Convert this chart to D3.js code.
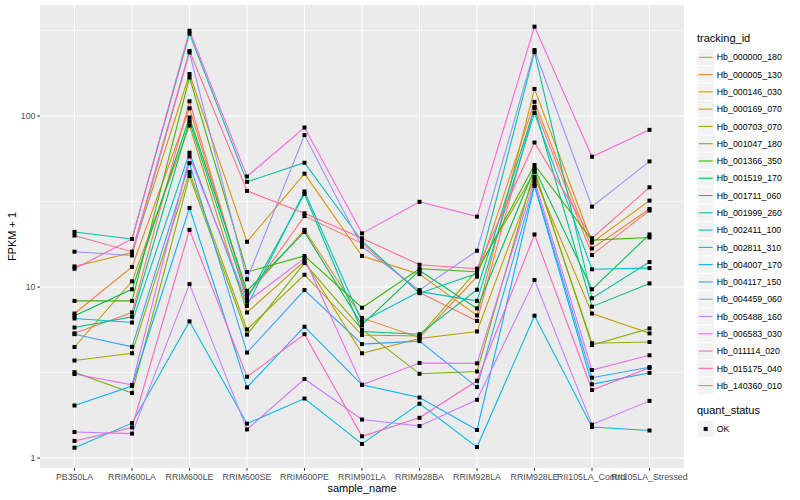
<!DOCTYPE html>
<html><head><meta charset="utf-8">
<script src="https://cdn.jsdelivr.net/npm/d3@7"></script>
<style>body{margin:0;background:#fff}svg{display:block}text{font-family:"Liberation Sans",Arial,Helvetica,sans-serif}</style>
</head><body><svg id="c" width="800" height="500"></svg>
<script>
const samples = ["PB350LA","RRIM600LA","RRIM600LE","RRIM600SE","RRIM600PE","RRIM901LA","RRIM928BA","RRIM928LA","RRIM928LE","RII105LA_Control","RII105LA_Stressed"];
const trackingIds = ["Hb_000000_180","Hb_000005_130","Hb_000146_030","Hb_000169_070","Hb_000703_070","Hb_001047_180","Hb_001366_350","Hb_001519_170","Hb_001711_060","Hb_001999_260","Hb_002411_100","Hb_002811_310","Hb_004007_170","Hb_004117_150","Hb_004459_060","Hb_005488_160","Hb_006583_030","Hb_011114_020","Hb_015175_040","Hb_140360_010"];
// FPKM + 1 per tracking id, in sample order
const fpkm = [
 [5.36, 7.1, 122, 8.75, 26, 18, 9.3, 6.33, 113, 15.4, 28.0],
 [7.0, 13.1, 111, 9.0, 21.6, 6.6, 5.06, 11.5, 121, 16.8, 28.6],
 [13.2, 15.9, 176, 18.4, 46, 15.2, 11.9, 6.83, 144, 18.2, 32],
 [4.46, 10.8, 88, 7.1, 14.2, 4.1, 5.0, 5.5, 44, 7.0, 5.36],
 [3.72, 4.1, 47, 5.65, 11.8, 5.24, 5.17, 12.5, 47, 4.69, 4.77],
 [3.18, 2.4, 44.6, 5.27, 13.8, 5.65, 3.11, 3.21, 48, 4.58, 5.73],
 [8.3, 8.3, 168, 12.25, 15.2, 7.57, 12.8, 12.3, 51.7, 18.8, 19.5],
 [6.8, 9.7, 98, 9.5, 21, 6.0, 12.5, 7.5, 49.3, 9.7, 20.3],
 [5.8, 6.7, 93, 8.5, 35, 5.5, 5.3, 9.65, 111, 7.68, 10.5],
 [21, 19.1, 303, 41.2, 53.3, 18.6, 9.2, 12.0, 236, 8.6, 14.0],
 [6.55, 6.2, 61, 7.75, 36.2, 6.27, 9.4, 8.3, 104, 12.7, 12.9],
 [1.15, 1.6, 6.3, 1.59, 2.23, 1.21, 2.08, 1.16, 6.8, 1.52, 1.45],
 [2.03, 2.64, 29, 2.59, 5.86, 2.68, 2.26, 1.46, 39, 2.70, 3.15],
 [5.3, 4.47, 53, 4.14, 9.6, 4.64, 4.83, 2.6, 40, 2.95, 3.4],
 [16.1, 15.3, 235, 11.1, 77.4, 17.2, 9.6, 16.3, 243, 29.5, 54.3],
 [1.42, 1.39, 10.4, 1.47, 2.9, 1.68, 1.54, 2.19, 11.0, 1.57, 2.16],
 [3.1, 2.68, 58, 8.2, 14.7, 2.68, 3.6, 3.58, 42.2, 3.27, 3.99],
 [12.8, 19.1, 315, 44.3, 85.6, 20.6, 31.5, 25.8, 333, 57.8, 83],
 [1.26, 1.51, 21.6, 2.99, 5.3, 1.34, 1.72, 2.83, 20.3, 2.5, 3.37],
 [20, 16.1, 240, 36.5, 27, 19.3, 13.5, 12.8, 70, 19.3, 38.3]
];
const yTicks = [1, 10, 100];
const yTickLabels = ["1", "10", "100"];
const yMinor = [Math.sqrt(10), Math.sqrt(1000), Math.sqrt(100000)];
const quantStatus = ["OK"];

const palette = ["#F8766D","#EA8331","#D89000","#C09B00","#A3A500","#7CAE00","#39B600","#00BB4E","#00BF7D","#00C1A3","#00BFC4","#00BAE0","#00B0F6","#35A2FF","#9590FF","#C77CFF","#E76BF3","#FA62DB","#FF62BC","#FF6C91"];

const svg = d3.select("#c");
const L = 40, R = 684, T = 5, B = 468;
const x = d3.scalePoint().domain(samples).range([L, R]).padding(0.6);
const y = d3.scaleLog().domain([Math.pow(10, -0.058), Math.pow(10, 2.649)]).range([B, T]);
const color = d3.scaleOrdinal().domain(trackingIds).range(palette);

svg.append("rect").attr("x", L).attr("y", T).attr("width", R - L).attr("height", B - T).attr("fill", "#EBEBEB");
const g = svg.append("g");
g.selectAll(".ymin").data(yMinor).join("line")
  .attr("x1", L).attr("x2", R).attr("y1", d => y(d)).attr("y2", d => y(d))
  .attr("stroke", "#fff").attr("stroke-width", 0.55);
g.selectAll(".ymaj").data(yTicks).join("line")
  .attr("x1", L).attr("x2", R).attr("y1", d => y(d)).attr("y2", d => y(d))
  .attr("stroke", "#fff").attr("stroke-width", 1.1);
g.selectAll(".xmaj").data(samples).join("line")
  .attr("x1", d => x(d)).attr("x2", d => x(d)).attr("y1", T).attr("y2", B)
  .attr("stroke", "#fff").attr("stroke-width", 1.1);

const series = trackingIds.map((id, i) => ({id, values: samples.map((s, j) => ({s, v: fpkm[i][j]}))}));
const line = d3.line().x(d => x(d.s)).y(d => y(d.v));
svg.append("g").selectAll("path").data(series).join("path")
  .attr("d", d => line(d.values)).attr("fill", "none")
  .attr("stroke", d => color(d.id)).attr("stroke-width", 1.07);
const pts = series.flatMap(d => d.values);
svg.append("g").selectAll("rect").data(pts).join("rect")
  .attr("x", d => x(d.s) - 2).attr("y", d => y(d.v) - 2)
  .attr("width", 4).attr("height", 4).attr("fill", "#000");

// axes
const ax = svg.append("g");
ax.selectAll(".xt").data(samples).join("line")
  .attr("x1", d => x(d)).attr("x2", d => x(d)).attr("y1", B).attr("y2", B + 2.7)
  .attr("stroke", "#333").attr("stroke-width", 1.07);
ax.selectAll(".xl").data(samples).join("text")
  .attr("x", d => x(d)).attr("y", B + 12).attr("text-anchor", "middle")
  .attr("font-size", 8.8).attr("fill", "#4D4D4D").text(d => d);
ax.selectAll(".yt").data(yTicks).join("line")
  .attr("x1", L - 2.7).attr("x2", L).attr("y1", d => y(d)).attr("y2", d => y(d))
  .attr("stroke", "#333").attr("stroke-width", 1.07);
ax.selectAll(".yl").data(yTicks).join("text")
  .attr("x", L - 4.5).attr("y", d => y(d) + 3.2).attr("text-anchor", "end")
  .attr("font-size", 8.8).attr("fill", "#4D4D4D").text((d, i) => yTickLabels[i]);
svg.append("text").attr("x", (L + R) / 2).attr("y", 491.5).attr("text-anchor", "middle")
  .attr("font-size", 11).attr("fill", "#000").text("sample_name");
svg.append("text").attr("transform", `translate(16,${(T + B) / 2}) rotate(-90)`).attr("text-anchor", "middle")
  .attr("font-size", 11).attr("fill", "#000").text("FPKM + 1");

// legend
const lg = svg.append("g");
const kx = 697, ks = 17.28, k0 = 57.3 - ks / 2;
lg.append("text").attr("x", kx).attr("y", 42).attr("font-size", 11).text("tracking_id");
const items = lg.selectAll(".k").data(trackingIds).join("g")
  .attr("transform", (d, i) => `translate(${kx},${k0 + i * ks})`);
items.append("rect").attr("width", ks).attr("height", ks).attr("fill", "#F2F2F2").attr("stroke", "#fff").attr("stroke-width", 1);
items.append("line").attr("x1", 1.7).attr("x2", ks - 1.7).attr("y1", ks / 2).attr("y2", ks / 2)
  .attr("stroke", d => color(d)).attr("stroke-width", 1.07);
items.append("text").attr("x", ks + 2.5).attr("y", ks / 2 + 3.2).attr("font-size", 8.8).attr("fill", "#000").text(d => d);

lg.append("text").attr("x", kx).attr("y", 414).attr("font-size", 11).text("quant_status");
const q = lg.selectAll(".q").data(quantStatus).join("g").attr("transform", (d, i) => `translate(${kx},${420.3 + i * ks})`);
q.append("rect").attr("width", ks).attr("height", ks).attr("fill", "#F2F2F2").attr("stroke", "#fff");
q.append("rect").attr("x", ks / 2 - 2).attr("y", ks / 2 - 2).attr("width", 4).attr("height", 4).attr("fill", "#000");
q.append("text").attr("x", ks + 2.5).attr("y", ks / 2 + 3.2).attr("font-size", 8.8).text(d => d);
</script></body></html>
